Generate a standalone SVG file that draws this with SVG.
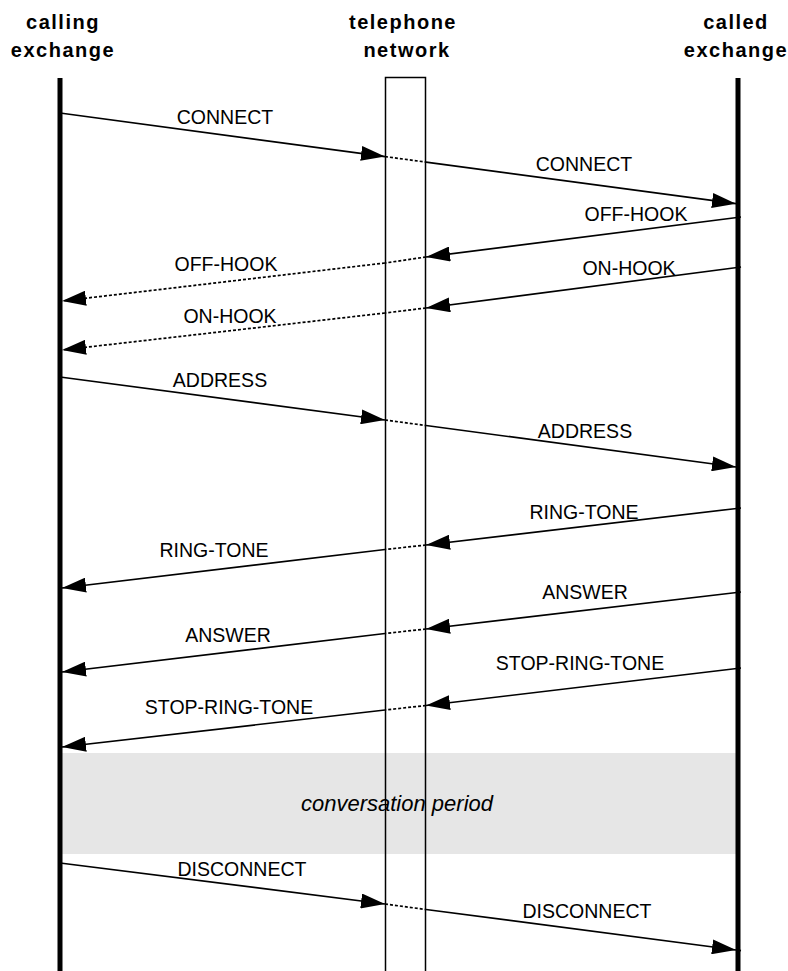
<svg xmlns="http://www.w3.org/2000/svg" width="788" height="971" viewBox="0 0 788 971">
<style>
.hdr{font-family:"Liberation Sans",Arial,sans-serif;font-weight:bold;font-size:20px;letter-spacing:1.5px;fill:#000;text-anchor:middle}
.lbl{font-family:"Liberation Sans",Arial,sans-serif;font-size:19.5px;fill:#000;text-anchor:middle}
.conv{font-family:"Liberation Sans",Arial,sans-serif;font-style:italic;font-size:22px;fill:#000;text-anchor:middle}
.life{stroke:#000;stroke-width:5;fill:none}
.box{stroke:#000;stroke-width:1.5;fill:none}
.msg{stroke:#000;stroke-width:1.7;fill:none}
.dash{stroke:#000;stroke-width:1.7;fill:none;stroke-dasharray:3 2}
</style>
<defs>
<marker id="ah" markerUnits="userSpaceOnUse" markerWidth="24" markerHeight="15" viewBox="0 0 24 15" refX="24" refY="7.5" orient="auto">
<path d="M0,0 L24,7.5 L0,15 z" fill="#000"/>
</marker>
</defs>
<rect width="788" height="971" fill="#fff"/>
<g id="conversation">
<rect x="62" y="753" width="674" height="101" fill="#e6e6e6"/>
<text class="conv" x="397" y="811">conversation period</text>
</g>
<g id="calling-exchange">
<text class="hdr" x="63" y="29">calling</text>
<text class="hdr" x="63" y="57">exchange</text>
<line class="life" x1="60" y1="78" x2="60" y2="971"/>
</g>
<g id="telephone-network">
<text class="hdr" x="403" y="29">telephone</text>
<text class="hdr" x="407" y="57">network</text>
<path class="box" d="M385.5,975 V77.5 H425.5 V975"/>
</g>
<g id="called-exchange">
<text class="hdr" x="736" y="29">called</text>
<text class="hdr" x="736" y="57">exchange</text>
<line class="life" x1="738" y1="78" x2="738" y2="971"/>
</g>
<g id="connectors">
<!-- CONNECT -->
<line class="msg" x1="60" y1="113" x2="385" y2="156.6" marker-end="url(#ah)"/>
<line class="dash" x1="385" y1="156.6" x2="426" y2="162.1"/>
<line class="msg" x1="426" y1="162.1" x2="736" y2="203.7" marker-end="url(#ah)"/>
<!-- OFF-HOOK -->
<line class="msg" x1="741" y1="217" x2="426" y2="257" marker-end="url(#ah)"/>
<line class="dash" x1="426" y1="257" x2="385" y2="263"/>
<line class="dash" x1="385" y1="263" x2="62" y2="301" marker-end="url(#ah)"/>
<!-- ON-HOOK -->
<line class="msg" x1="741" y1="267" x2="426" y2="308" marker-end="url(#ah)"/>
<line class="dash" x1="426" y1="308" x2="385" y2="313"/>
<line class="dash" x1="385" y1="313" x2="62" y2="350" marker-end="url(#ah)"/>
<!-- ADDRESS -->
<line class="msg" x1="60" y1="377" x2="385" y2="420" marker-end="url(#ah)"/>
<line class="dash" x1="385" y1="420" x2="426" y2="425.5"/>
<line class="msg" x1="426" y1="425.5" x2="736" y2="467" marker-end="url(#ah)"/>
<!-- RING-TONE -->
<line class="msg" x1="741" y1="508" x2="426" y2="545" marker-end="url(#ah)"/>
<line class="dash" x1="426" y1="545" x2="385" y2="549.5"/>
<line class="msg" x1="385" y1="549.5" x2="62" y2="588" marker-end="url(#ah)"/>
<!-- ANSWER -->
<line class="msg" x1="741" y1="592" x2="426" y2="629" marker-end="url(#ah)"/>
<line class="dash" x1="426" y1="629" x2="385" y2="633.5"/>
<line class="msg" x1="385" y1="633.5" x2="62" y2="672" marker-end="url(#ah)"/>
<!-- STOP-RING-TONE -->
<line class="msg" x1="741" y1="668" x2="426" y2="705.5" marker-end="url(#ah)"/>
<line class="dash" x1="426" y1="705.5" x2="385" y2="710"/>
<line class="msg" x1="385" y1="710" x2="62" y2="747" marker-end="url(#ah)"/>
<!-- DISCONNECT -->
<line class="msg" x1="60" y1="863" x2="385" y2="904" marker-end="url(#ah)"/>
<line class="dash" x1="385" y1="904" x2="426" y2="909.5"/>
<line class="msg" x1="426" y1="909.5" x2="736" y2="950" marker-end="url(#ah)"/>
<line class="msg" x1="736" y1="950" x2="741" y2="950.6"/>
</g>
<g id="labels">
<text class="lbl" x="225" y="124">CONNECT</text>
<text class="lbl" x="584" y="171">CONNECT</text>
<text class="lbl" x="636" y="221">OFF-HOOK</text>
<text class="lbl" x="226" y="271">OFF-HOOK</text>
<text class="lbl" x="629" y="275">ON-HOOK</text>
<text class="lbl" x="230" y="323">ON-HOOK</text>
<text class="lbl" x="220" y="387">ADDRESS</text>
<text class="lbl" x="585" y="438">ADDRESS</text>
<text class="lbl" x="584" y="519">RING-TONE</text>
<text class="lbl" x="214" y="557">RING-TONE</text>
<text class="lbl" x="585" y="599">ANSWER</text>
<text class="lbl" x="228" y="642">ANSWER</text>
<text class="lbl" x="580" y="670">STOP-RING-TONE</text>
<text class="lbl" x="229" y="714">STOP-RING-TONE</text>
<text class="lbl" x="242" y="876">DISCONNECT</text>
<text class="lbl" x="587" y="918">DISCONNECT</text>
</g>
</svg>
